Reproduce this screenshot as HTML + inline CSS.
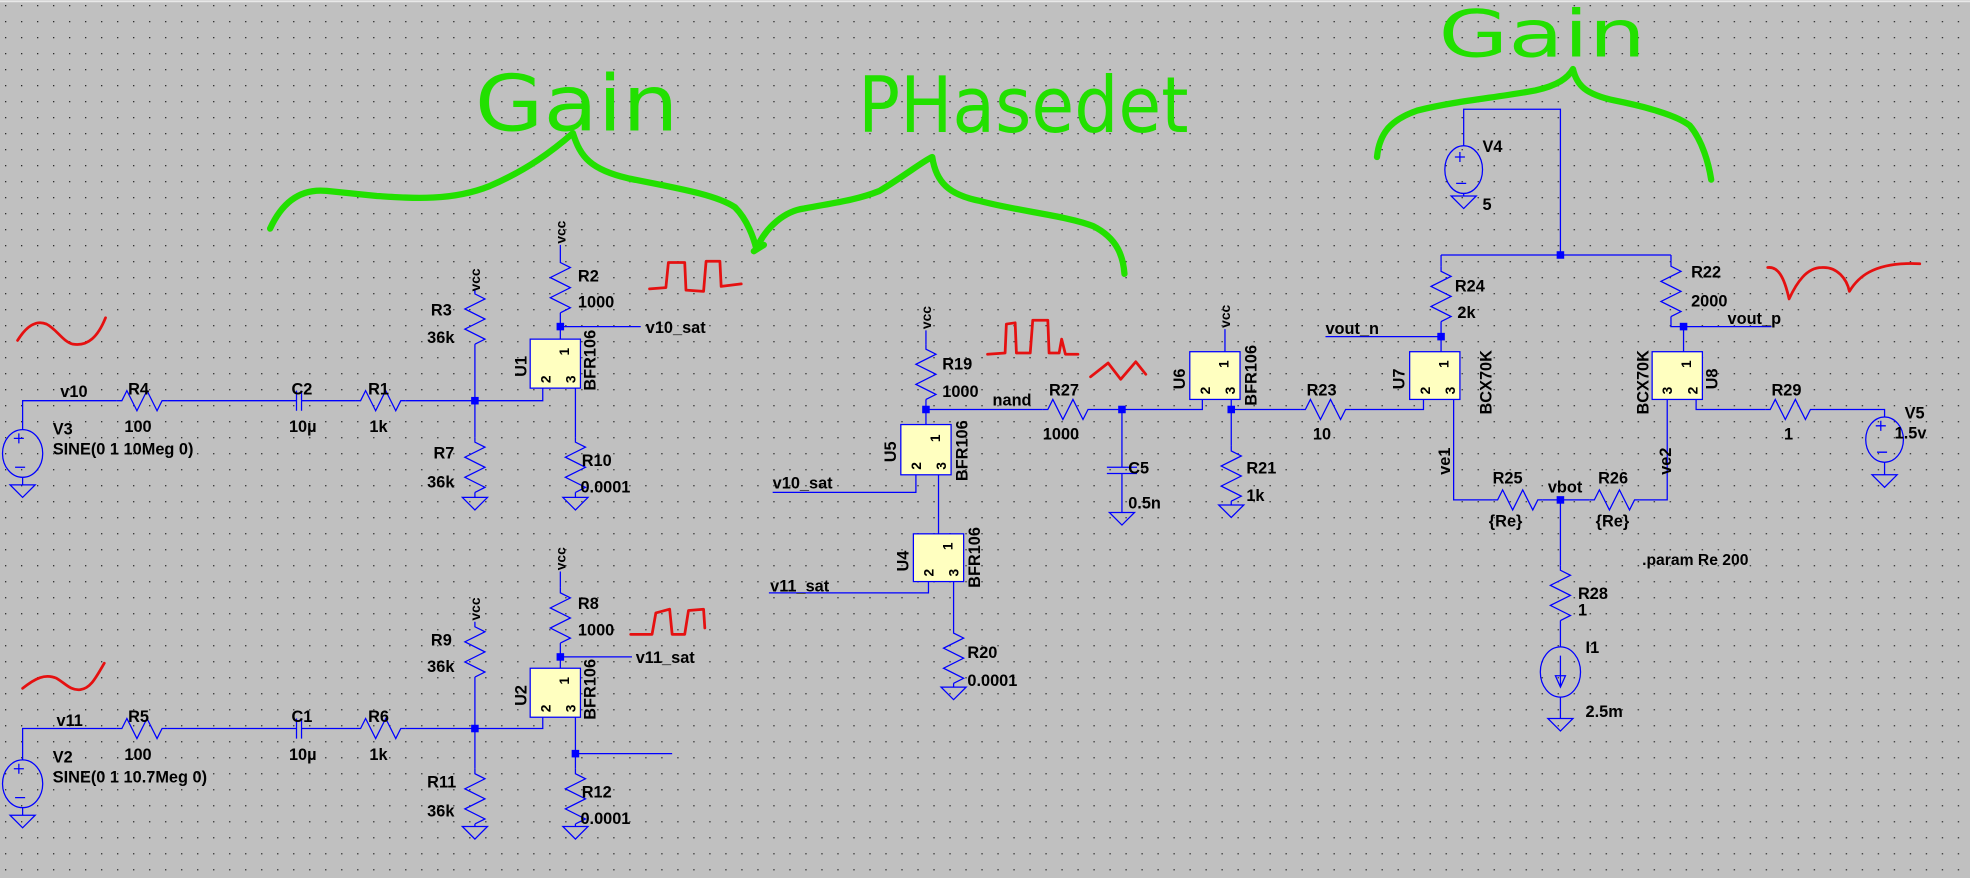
<!DOCTYPE html>
<html><head><meta charset="utf-8"><style>
html,body{margin:0;padding:0;background:#c0c0c0;}
svg{display:block}
</style></head><body>
<svg width="1970" height="878" viewBox="0 0 1568 699" preserveAspectRatio="none" xmlns="http://www.w3.org/2000/svg">
<defs>
<pattern id="dots" width="12.74" height="12.74" patternUnits="userSpaceOnUse" x="4" y="4">
<rect x="0" y="0" width="1" height="1" fill="#222"/>
</pattern>
<path id="rv" d="M0,0 v4 l8,4 -16,8 16,8 -16,8 16,8 -8,4" fill="none" stroke="#0000ff" stroke-width="1"/>
<path id="rh" d="M0,0 h4 l4,-8 8,16 8,-16 8,16 4,-8 h4" fill="none" stroke="#0000ff" stroke-width="1"/>
<path id="gnd" d="M-10,0 h20 l-10,10 z" fill="none" stroke="#0000ff" stroke-width="1"/>
<rect id="jn" x="-3" y="-3" width="6" height="6" fill="#0000ff"/>
</defs>
<rect width="1568" height="699" fill="#c0c0c0"/>
<rect width="1568" height="699" fill="url(#dots)"/>
<line x1="0" y1="1" x2="1568" y2="1" stroke="#e8e8e8" stroke-width="1.5"/>

<g fill="none" stroke="#0000ff" stroke-width="1">
<ellipse cx="18" cy="361" rx="16" ry="19"/>
<path d="M18,342 V319 H93 M133,319 H236 M240,319 H283 M323,319 H432 V309"/>
<path d="M236,311 V327 M240,311 V327"/>
<path d="M18,380 V386"/>
<path d="M378,233 V230 M378,274 V348 M378,392 V396"/>
<path d="M446,195 V205 M446,249 V270 M446,260 H510"/>
<path d="M458,309 V348 M458,392 V396"/>
<path d="M11,349 h8 M15,345 v8 M12,372 h8"/>
<ellipse cx="18" cy="624" rx="16" ry="19"/>
<path d="M18,605 V580 H93 M133,580 H236 M240,580 H283 M323,580 H432 V571"/>
<path d="M236,572 V588 M240,572 V588"/>
<path d="M18,643 V649"/>
<path d="M378,495 V495 M378,539 V612 M378,656 V658"/>
<path d="M446,455 V468 M446,512 V532 M446,523 H503"/>
<path d="M458,571 V612 M458,600 H535 M458,656 V658"/>
<path d="M11,612 h8 M15,608 v8 M12,635 h8"/>
<path d="M737,263 V274 M737,318 V338 M737,326 H830 M870,326 H957 V318"/>
<path d="M893,326 V372 M881,372 h24 M881,377 h24 M893,377 V408"/>
<path d="M729,378 V392 H615 M747,378 V425 M739,463 V472 H612 M759,463 V500 M759,544 V547"/>
<path d="M975,262 V280 M980,318 V326 V355 M980,399 V402 M980,326 H1035 M1075,326 H1133 V318"/>
<ellipse cx="1165" cy="135" rx="15" ry="19"/>
<path d="M1158,125 h8 M1162,121 v8 M1159,146 h8"/>
<path d="M1165,116 V87 H1242 V203 M1147,203 H1330 M1147,203 V212 M1147,256 V280 M1147,268 H1055"/>
<path d="M1330,203 V208 M1330,252 V260 H1410 M1340,260 V280"/>
<path d="M1165,154 V156"/>
<path d="M1157,318 V398 H1188 M1228,398 H1265 M1305,398 H1327 V318"/>
<path d="M1350,318 V326 H1405 M1445,326 H1500 V332"/>
<ellipse cx="1500" cy="350" rx="15" ry="18"/>
<path d="M1493,339 h8 M1497,335 v8 M1494,360 h8"/>
<path d="M1500,368 V378"/>
<path d="M1242,398 V450 M1242,494 V515 M1242,555 V572"/>
<ellipse cx="1242" cy="535" rx="16" ry="20"/>
<path d="M1242,522 V546 M1238,538 l4,9 4,-9 z"/>
</g>

<use href="#rh" x="93" y="319"/><use href="#rh" x="283" y="319"/>
<use href="#rh" x="93" y="580"/><use href="#rh" x="283" y="580"/>
<use href="#rv" x="378" y="230"/><use href="#rv" x="378" y="348"/>
<use href="#rv" x="446" y="205"/><use href="#rv" x="458" y="348"/>
<use href="#rv" x="378" y="495"/><use href="#rv" x="378" y="612"/>
<use href="#rv" x="446" y="468"/><use href="#rv" x="458" y="612"/>
<use href="#rv" x="737" y="274"/><use href="#rh" x="830" y="326"/>
<use href="#rv" x="759" y="500"/><use href="#rv" x="980" y="355"/>
<use href="#rh" x="1035" y="326"/>
<use href="#rv" x="1147" y="212"/><use href="#rv" x="1330" y="208"/>
<use href="#rh" x="1188" y="398"/><use href="#rh" x="1265" y="398"/>
<use href="#rh" x="1405" y="326"/><use href="#rv" x="1242" y="450"/>
<use href="#gnd" x="18" y="386"/><use href="#gnd" x="378" y="396"/><use href="#gnd" x="458" y="396"/>
<use href="#gnd" x="18" y="649"/><use href="#gnd" x="378" y="658"/><use href="#gnd" x="458" y="658"/>
<use href="#gnd" x="893" y="408"/><use href="#gnd" x="980" y="402"/><use href="#gnd" x="759" y="547"/>
<use href="#gnd" x="1165" y="156"/><use href="#gnd" x="1500" y="378"/><use href="#gnd" x="1242" y="572"/>
<use href="#jn" x="378" y="319"/><use href="#jn" x="446" y="260"/>
<use href="#jn" x="378" y="580"/><use href="#jn" x="446" y="523"/><use href="#jn" x="458" y="600"/>
<use href="#jn" x="737" y="326"/><use href="#jn" x="893" y="326"/><use href="#jn" x="980" y="326"/>
<use href="#jn" x="1242" y="203"/><use href="#jn" x="1147" y="268"/><use href="#jn" x="1340" y="260"/>
<use href="#jn" x="1242" y="398"/>

<g fill="#ffffc0" stroke="#0000ff" stroke-width="1">
<rect x="422" y="270" width="40" height="39"/>
<rect x="422" y="532" width="40" height="39"/>
<rect x="717" y="338" width="40" height="40"/>
<rect x="727" y="425" width="40" height="38"/>
<rect x="947" y="280" width="40" height="38"/>
<rect x="1122" y="280" width="40" height="38"/>
<rect x="1315" y="280" width="40" height="38"/>
</g>

<g font-family="Liberation Sans, sans-serif" font-weight="bold" font-size="11" fill="#000">
<g transform="translate(453,283) rotate(-90)"><text>1</text></g>
<g transform="translate(438,305) rotate(-90)"><text>2</text></g>
<g transform="translate(458,305) rotate(-90)"><text>3</text></g>
<g transform="translate(453,545) rotate(-90)"><text>1</text></g>
<g transform="translate(438,567) rotate(-90)"><text>2</text></g>
<g transform="translate(458,567) rotate(-90)"><text>3</text></g>
<g transform="translate(748,352) rotate(-90)"><text>1</text></g>
<g transform="translate(733,374) rotate(-90)"><text>2</text></g>
<g transform="translate(753,374) rotate(-90)"><text>3</text></g>
<g transform="translate(758,438) rotate(-90)"><text>1</text></g>
<g transform="translate(743,459) rotate(-90)"><text>2</text></g>
<g transform="translate(763,459) rotate(-90)"><text>3</text></g>
<g transform="translate(978,293) rotate(-90)"><text>1</text></g>
<g transform="translate(963,314) rotate(-90)"><text>2</text></g>
<g transform="translate(983,314) rotate(-90)"><text>3</text></g>
<g transform="translate(1153,293) rotate(-90)"><text>1</text></g>
<g transform="translate(1138,314) rotate(-90)"><text>2</text></g>
<g transform="translate(1158,314) rotate(-90)"><text>3</text></g>
<g transform="translate(1346,293) rotate(-90)"><text>1</text></g>
<g transform="translate(1331,314) rotate(-90)"><text>3</text></g>
<g transform="translate(1351,314) rotate(-90)"><text>2</text></g>
<g transform="translate(382,232) rotate(-90)"><text>vcc</text></g>
<g transform="translate(450,194) rotate(-90)"><text>vcc</text></g>
<g transform="translate(382,494) rotate(-90)"><text>vcc</text></g>
<g transform="translate(450,454) rotate(-90)"><text>vcc</text></g>
<g transform="translate(741,262) rotate(-90)"><text>vcc</text></g>
<g transform="translate(979,261) rotate(-90)"><text>vcc</text></g>
</g>

<g font-family="Liberation Sans, sans-serif" font-weight="bold" font-size="13" fill="#000">
<g transform="translate(419,300) rotate(-90)"><text>U1</text></g>
<g transform="translate(474,311) rotate(-90)"><text>BFR106</text></g>
<g transform="translate(419,562) rotate(-90)"><text>U2</text></g>
<g transform="translate(474,573) rotate(-90)"><text>BFR106</text></g>
<g transform="translate(713,368) rotate(-90)"><text>U5</text></g>
<g transform="translate(770,383) rotate(-90)"><text>BFR106</text></g>
<g transform="translate(723,455) rotate(-90)"><text>U4</text></g>
<g transform="translate(780,468) rotate(-90)"><text>BFR106</text></g>
<g transform="translate(943,310) rotate(-90)"><text>U6</text></g>
<g transform="translate(1000,323) rotate(-90)"><text>BFR106</text></g>
<g transform="translate(1118,310) rotate(-90)"><text>U7</text></g>
<g transform="translate(1187,330) rotate(-90)"><text>BCX70K</text></g>
<g transform="translate(1312,330) rotate(-90)"><text>BCX70K</text></g>
<g transform="translate(1367,310) rotate(-90)"><text>U8</text></g>
<g transform="translate(1154,378) rotate(-90)"><text>ve1</text></g>
<g transform="translate(1330,378) rotate(-90)"><text>ve2</text></g>

<text x="48" y="316">v10</text>
<text x="102" y="314">R4</text><text x="99" y="344">100</text>
<text x="232" y="314">C2</text><text x="230" y="344">10µ</text>
<text x="293" y="314">R1</text><text x="294" y="344">1k</text>
<text x="42" y="346">V3</text><text x="42" y="362">SINE(0 1 10Meg 0)</text>
<text x="343" y="251">R3</text><text x="340" y="273">36k</text>
<text x="345" y="365">R7</text><text x="340" y="388">36k</text>
<text x="460" y="224">R2</text><text x="460" y="245">1000</text>
<text x="514" y="265">v10_sat</text>
<text x="463" y="371">R10</text><text x="462" y="392">0.0001</text>
<text x="45" y="578">v11</text>
<text x="102" y="575">R5</text><text x="99" y="605">100</text>
<text x="232" y="575">C1</text><text x="230" y="605">10µ</text>
<text x="293" y="575">R6</text><text x="294" y="605">1k</text>
<text x="42" y="607">V2</text><text x="42" y="623">SINE(0 1 10.7Meg 0)</text>
<text x="343" y="514">R9</text><text x="340" y="535">36k</text>
<text x="340" y="627">R11</text><text x="340" y="650">36k</text>
<text x="460" y="485">R8</text><text x="460" y="506">1000</text>
<text x="506" y="528">v11_sat</text>
<text x="463" y="635">R12</text><text x="462" y="656">0.0001</text>
<text x="750" y="294">R19</text><text x="750" y="316">1000</text>
<text x="790" y="323">nand</text>
<text x="835" y="315">R27</text><text x="830" y="350">1000</text>
<text x="898" y="377">C5</text><text x="898" y="405">0.5n</text>
<text x="615" y="389">v10_sat</text>
<text x="613" y="471">v11_sat</text>
<text x="770" y="524">R20</text><text x="770" y="546">0.0001</text>
<text x="992" y="377">R21</text><text x="992" y="399">1k</text>
<text x="1040" y="315">R23</text><text x="1045" y="350">10</text>
<text x="1180" y="121">V4</text><text x="1180" y="167">5</text>
<text x="1158" y="232">R24</text><text x="1160" y="253">2k</text>
<text x="1055" y="266">vout_n</text>
<text x="1346" y="221">R22</text><text x="1346" y="244">2000</text>
<text x="1375" y="258">vout_p</text>
<text x="1410" y="315">R29</text><text x="1420" y="350">1</text>
<text x="1516" y="333">V5</text><text x="1508" y="349">1.5v</text>
<text x="1188" y="385">R25</text><text x="1185" y="419">{Re}</text>
<text x="1232" y="392">vbot</text>
<text x="1272" y="385">R26</text><text x="1270" y="419">{Re}</text>
<text x="1307" y="450" font-size="12.5">.param Re 200</text>
<text x="1256" y="477">R28</text><text x="1256" y="490">1</text>
<text x="1262" y="520">I1</text><text x="1262" y="571">2.5m</text>
</g>

<g fill="none" stroke="#e51010" stroke-width="2.2" stroke-linecap="round" stroke-linejoin="round">
<path d="M14,271 C22,258 30,255 37,258 C45,262 50,272 58,274 C70,276 78,268 84,253"/>
<path d="M517,230 L530,229 L532,209 L545,209 L546,231 L560,232 L562,208 L573,208 L574,228 L590,226"/>
<path d="M18,548 C28,540 36,536 45,540 C52,544 56,550 64,549 C72,548 76,540 83,528"/>
<path d="M502,505 L519,505 L522,488 L533,485 L535,505 L545,505 L548,486 L560,485 L561,500"/>
<path d="M786,282 L800,281 L801,258 L808,257 L809,281 L820,281 L822,255 L834,255 L835,281 L843,281 L845,270 L848,282 L858,282"/>
<path d="M868,300 L882,289 L892,302 L904,288 L912,298"/>
<path d="M1407,213 C1415,212 1420,220 1424,238 C1430,225 1438,213 1450,213 C1462,212 1470,222 1472,232 C1478,222 1490,208 1528,210"/>
</g>

<g fill="none" stroke="#22e000" stroke-width="5" stroke-linecap="round" stroke-linejoin="round">
<path d="M215,182 C225,160 240,150 260,152 L300,156 C330,158 360,160 390,148 C420,135 440,120 456,106 C462,125 470,135 500,142 C540,150 570,155 585,165 C595,175 600,190 602,198 C610,180 625,168 640,166 C660,162 680,160 700,152 C720,140 735,128 742,125 C745,145 755,155 780,160 C810,168 850,172 870,180 C890,190 894,205 895,218"/>
<path d="M608,195 L600,200"/>
<path d="M1096,125 C1098,105 1108,95 1128,88 C1160,80 1190,78 1222,72 C1240,68 1248,62 1252,55 C1255,68 1262,75 1285,80 C1310,85 1335,92 1345,100 C1355,112 1360,130 1362,143"/>
</g>
<g font-family="DejaVu Sans, sans-serif" fill="#22e000" font-weight="normal">
<text x="378" y="104" font-size="62" textLength="162" lengthAdjust="spacingAndGlyphs">Gain</text>
<text x="683" y="105" font-size="62" textLength="263" lengthAdjust="spacingAndGlyphs">PHasedet</text>
<text x="1145" y="45" font-size="52" textLength="165" lengthAdjust="spacingAndGlyphs">Gain</text>
</g>
</svg>
</body></html>
